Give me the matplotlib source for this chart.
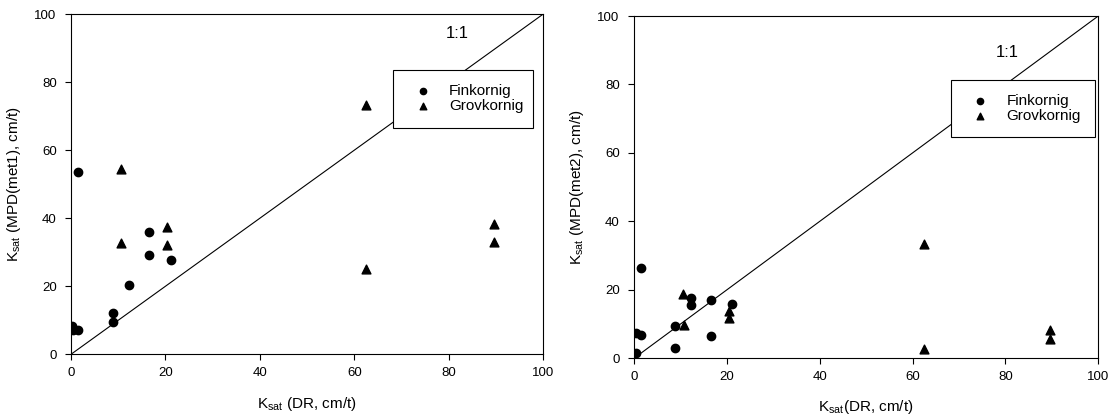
import matplotlib.pyplot as plt

plt.rcParams['font.family'] = ['Liberation Sans', 'DejaVu Sans']

# ---------------- data ----------------
# Left panel: MPD(met1)
fin1_x = [0.3, 0.5, 1.4, 1.4, 8.8, 8.8, 12.3, 16.5, 16.5, 21.2]
fin1_y = [8.3, 7.2, 7.0, 53.6, 12.2, 9.5, 20.4, 36.0, 29.2, 27.6]
grov1_x = [10.6, 10.6, 20.4, 20.4, 62.5, 62.5, 89.5, 89.5]
grov1_y = [54.6, 32.7, 37.5, 32.0, 73.4, 25.1, 38.4, 33.1]

# Right panel: MPD(met2)
fin2_x = [0.5, 0.5, 1.5, 1.5, 8.8, 8.8, 12.3, 12.3, 16.5, 16.5, 21.2]
fin2_y = [7.5, 1.5, 6.8, 26.4, 9.4, 3.0, 17.6, 15.7, 16.9, 6.5, 15.8]
grov2_x = [10.5, 10.7, 20.5, 20.5, 62.5, 62.5, 89.5, 89.5]
grov2_y = [18.7, 9.6, 13.8, 11.9, 33.3, 2.6, 8.2, 5.5]

ticks = [0, 20, 40, 60, 80, 100]

fig = plt.figure(figsize=(11.16, 4.2), dpi=100)
ax1 = fig.add_axes([0.0636, 0.1564, 0.4232, 0.8102])
ax2 = fig.add_axes([0.5681, 0.1469, 0.4160, 0.8150])


def draw_panel(ax, fx, fy, gx, gy, ylabel, xlabel, txt_xy, leg_box):
    ax.plot([0, 100], [0, 100], color='black', lw=0.8, zorder=1)
    ax.scatter(fx, fy, marker='o', s=36, color='black', label='Finkornig', zorder=3)
    ax.scatter(gx, gy, marker='^', s=40, color='black', label='Grovkornig', zorder=3)
    ax.text(txt_xy[0], txt_xy[1], '1:1', fontsize=12, ha='center', va='center')
    ax.set_xlim(0, 100)
    ax.set_ylim(0, 100)
    ax.set_xticks(ticks)
    ax.set_yticks(ticks)
    ax.tick_params(direction='out', length=4.3, width=0.8, labelsize=9.5)
    ax.tick_params(axis='x', pad=5)
    ax.tick_params(axis='y', pad=6)
    for sp in ax.spines.values():
        sp.set_linewidth(0.8)
    ax.set_xlabel(xlabel, fontsize=11, labelpad=11)
    ax.set_ylabel(ylabel, fontsize=11, labelpad=8)
    leg = ax.legend(loc='upper left', bbox_to_anchor=leg_box, mode='expand',
                    fontsize=11, frameon=True, fancybox=False, framealpha=1,
                    edgecolor='black', markerscale=0.75, handletextpad=0.7,
                    borderpad=0.95, labelspacing=0.05, borderaxespad=0)
    leg.get_frame().set_linewidth(0.8)
    leg.set_zorder(5)


draw_panel(ax1, fin1_x, fin1_y, grov1_x, grov1_y,
           r'K$_{\mathregular{sat}}$ (MPD(met1), cm/t)',
           r'K$_{\mathregular{sat}}$ (DR, cm/t)',
           (81.7, 94.3), (0.682, 0.674, 0.296, 0.162))
draw_panel(ax2, fin2_x, fin2_y, grov2_x, grov2_y,
           r'K$_{\mathregular{sat}}$ (MPD(met2), cm/t)',
           r'K$_{\mathregular{sat}}$(DR, cm/t)',
           (80.5, 89.3), (0.682, 0.652, 0.312, 0.162))

fig.savefig('out.png', dpi=100)
